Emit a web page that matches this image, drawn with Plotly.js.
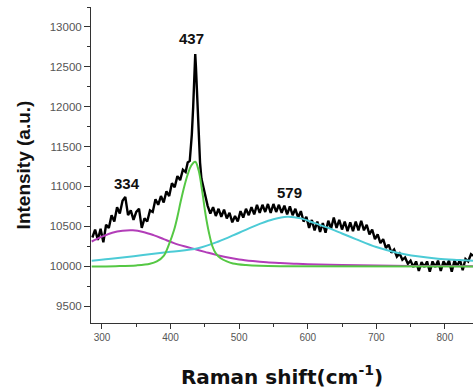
<!DOCTYPE html>
<html>
<head>
<meta charset="utf-8">
<script src="https://cdn.plot.ly/plotly-3.0.1.min.js"></script>
<style>html,body{margin:0;padding:0;background:#fff;}#chart{width:473px;height:389px;}</style>
</head>
<body>
<div id="chart"></div>
<script>
// Measured Raman spectrum (cm-1, a.u.)
const ramanShift = [286,290,294,298,302,306,310,314,318,322,326,330,334,338,342,346,350,354,358,362,366,370,374,378,382,386,390,394,398,402,406,410,414,418,422,425,428,431,433,435,436,437,439,441,443,445,448,451,454,458,462,466,470,474,478,482,486,490,494,498,502,506,510,514,518,522,526,530,534,538,542,546,550,554,558,562,566,570,574,578,582,586,590,594,598,602,606,610,614,618,622,626,630,634,638,642,646,650,654,658,662,666,670,674,678,682,686,690,694,698,702,706,710,714,718,722,726,730,734,738,742,746,750,754,758,762,766,770,774,778,782,786,790,794,798,802,806,810,814,818,822,826,830,834,838,841];
const intensity = [10360,10460,10330,10470,10300,10520,10480,10640,10560,10740,10660,10820,10870,10640,10700,10580,10680,10720,10480,10600,10560,10700,10680,10840,10770,10880,10800,10940,10880,11040,10990,11130,11080,11210,11180,11300,11320,11650,12000,12450,12660,12500,12100,11600,11300,11100,10980,10850,10760,10660,10740,10630,10720,10620,10710,10600,10670,10550,10630,10560,10690,10610,10720,10640,10740,10650,10770,10670,10770,10680,10780,10670,10780,10680,10770,10670,10760,10650,10750,10640,10720,10610,10690,10560,10620,10480,10580,10450,10560,10430,10540,10420,10570,10470,10610,10480,10580,10460,10560,10440,10550,10440,10560,10450,10570,10450,10520,10400,10460,10340,10400,10290,10340,10230,10270,10170,10210,10120,10160,10080,10110,10030,10070,9990,10060,9940,10050,9990,10060,9930,10060,9990,10070,9940,10060,10000,10070,9930,10070,10000,10080,9950,10090,10060,10150,10130];

// Fitted peak components
const fit334x = [285,300,315,330,345,360,375,390,405,420,435,450,465,480,500,520,540,560,580,600,650,700,750,800,841];
const fit334y = [10310,10370,10420,10445,10450,10430,10390,10340,10290,10250,10215,10180,10145,10115,10085,10065,10050,10040,10032,10025,10015,10008,10004,10002,10000];

const fit437x = [285,320,350,370,380,390,398,405,410,415,420,425,430,436,441,446,451,456,461,466,473,482,491,510,530,560,841];
const fit437y = [9995,10000,10010,10030,10060,10130,10280,10450,10620,10820,11000,11150,11260,11310,11200,10950,10650,10420,10250,10160,10100,10060,10035,10015,10005,10000,9995];

const fit579x = [285,320,360,400,440,470,500,530,550,570,590,610,630,650,670,700,730,760,790,820,841];
const fit579y = [10070,10100,10140,10180,10225,10310,10420,10530,10590,10620,10600,10540,10480,10410,10340,10240,10170,10125,10095,10078,10068];

const yTickVals = [9500,10000,10500,11000,11500,12000,12500,13000];
const yTickText = ["9500","10000","10500","11000","11500","12000","12500","13000"];
const xTickVals = [300,400,500,600,700,800];
const xTickText = ["300","400","500","600","700","800"];

const peakLabels = ["334","437","579"];
const peakLabelX = [336,431,574];
const peakLabelY = [11035,12850,10925];

const traces = [
  {x: ramanShift, y: intensity, mode: 'lines', line: {color: '#000000', width: 2.4}, showlegend: false},
  {x: fit334x, y: fit334y, mode: 'lines', line: {color: '#b23db8', width: 2, shape: 'spline'}, showlegend: false},
  {x: fit579x, y: fit579y, mode: 'lines', line: {color: '#4ccbd6', width: 2, shape: 'spline'}, showlegend: false},
  {x: fit437x, y: fit437y, mode: 'lines', line: {color: '#55c844', width: 2, shape: 'spline'}, showlegend: false}
];

const annotations = peakLabels.map((t, i) => ({
  x: peakLabelX[i], y: peakLabelY[i], xref: 'x', yref: 'y', text: t, showarrow: false,
  font: {family: 'Liberation Sans, Arial, sans-serif', size: 15, color: '#111', weight: 'bold'}
}));

const layout = {
  width: 473, height: 389,
  margin: {l: 91, r: 0, t: 7, b: 66},
  paper_bgcolor: '#ffffff', plot_bgcolor: '#ffffff',
  showlegend: false,
  font: {family: 'Liberation Sans, Arial, sans-serif'},
  xaxis: {
    range: [284, 841], tickmode: 'array', tickvals: xTickVals, ticktext: xTickText,
    ticks: 'outside', ticklen: 5, tickwidth: 1, tickcolor: '#333',
    showline: true, linecolor: '#333', linewidth: 1, mirror: false,
    showgrid: false, zeroline: false,
    tickfont: {size: 10, color: '#555'},
    minor: {dtick: 50, tick0: 300, ticks: 'outside', ticklen: 3, tickcolor: '#333', showgrid: false},
    title: {text: 'Raman shift(cm<sup>-1</sup>)', font: {family: 'DejaVu Sans, sans-serif', size: 20, color: '#111', weight: 'bold'}, standoff: 27}
  },
  yaxis: {
    range: [9288, 13250], tickmode: 'array', tickvals: yTickVals, ticktext: yTickText,
    ticks: 'outside', ticklen: 6, tickwidth: 1, tickcolor: '#333',
    showline: true, linecolor: '#333', linewidth: 1,
    showgrid: false, zeroline: false,
    tickfont: {size: 11.5, color: '#555'},
    minor: {dtick: 250, tick0: 9500, ticks: 'outside', ticklen: 3, tickcolor: '#333', showgrid: false},
    title: {text: 'Intensity (a.u.)', font: {size: 19, color: '#111', weight: 'bold'}, standoff: 14}
  },
  annotations: annotations
};

Plotly.newPlot('chart', traces, layout, {staticPlot: true, displayModeBar: false});
</script>
</body>
</html>
